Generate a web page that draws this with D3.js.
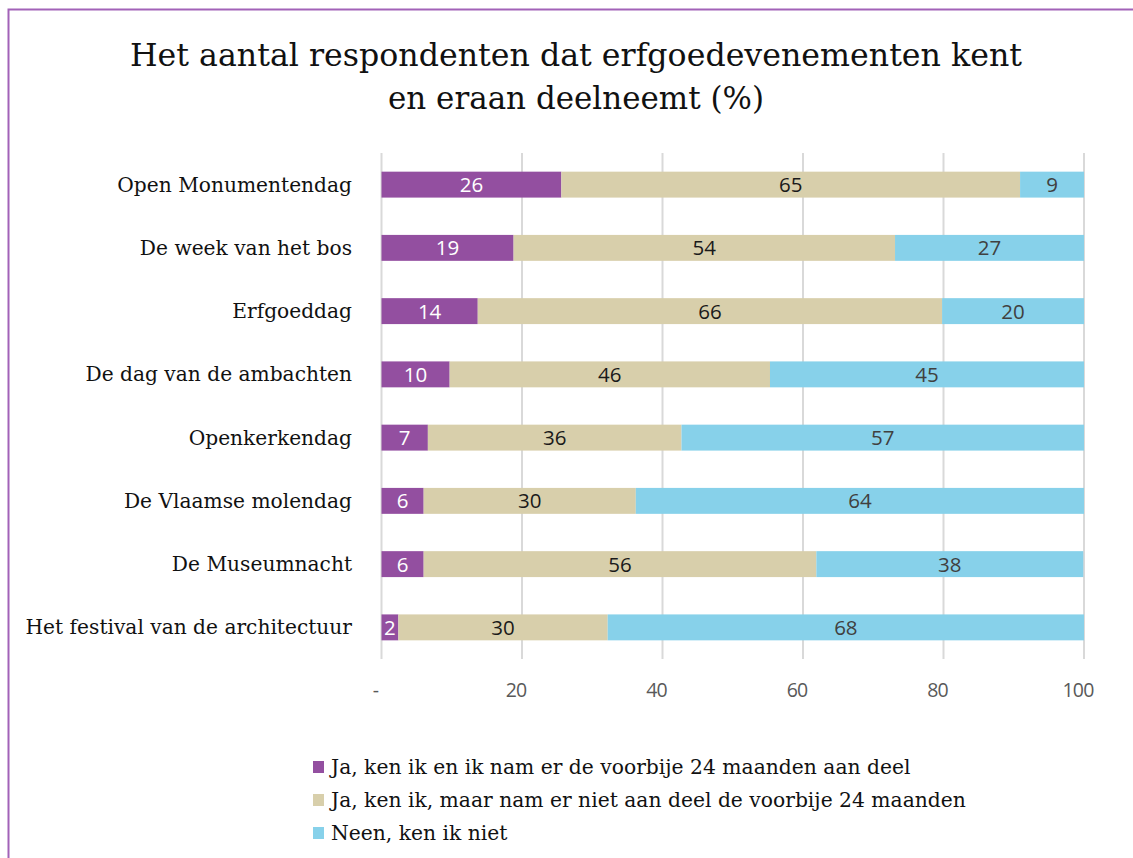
<!DOCTYPE html>
<html>
<head>
<meta charset="utf-8">
<script src="https://cdn.jsdelivr.net/npm/d3@7"></script>
<style>
  html, body { margin: 0; padding: 0; background: #fff; }
  svg { display: block; }
</style>
</head>
<body>
<svg id="chart" width="1133" height="858"></svg>
<script>
// ---- Data ----
const titleLines = ["Het aantal respondenten dat erfgoedevenementen kent", "en eraan deelneemt (%)"];
const categories = [
  "Open Monumentendag",
  "De week van het bos",
  "Erfgoeddag",
  "De dag van de ambachten",
  "Openkerkendag",
  "De Vlaamse molendag",
  "De Museumnacht",
  "Het festival van de architectuur"
];
const seriesNames = [
  "Ja, ken ik en ik nam er de voorbije 24 maanden aan deel",
  "Ja, ken ik, maar nam er niet aan deel de voorbije 24 maanden",
  "Neen, ken ik niet"
];
const deelgenomen   = [25.6, 18.8, 13.7, 9.7, 6.6, 6.0, 6.0, 2.4];
const nietDeel      = [65.3, 54.3, 66.1, 45.6, 36.1, 30.2, 55.9, 29.8];
const kentNiet      = [9.1, 27.0, 20.2, 44.7, 57.3, 63.8, 38.0, 67.9];
const tickValues = [0, 20, 40, 60, 80, 100];
const tickLabels = ["-", "20", "40", "60", "80", "100"];

const colors = ["#934FA0", "#D8CFAB", "#87D1EA"];
const labelColors = ["#FFFFFF", "#1a1a1a", "#404040"];

// ---- Setup ----
const svg = d3.select("#chart");
const serif = "'DejaVu Serif', serif";
const sans = "'Open Sans', 'Lato', sans-serif";

function fitWidth(sel, target) {
  sel.each(function() {
    const w = this.getComputedTextLength();
    if (w > target + 1 || w < target - 1) {
      d3.select(this).attr("textLength", target).attr("lengthAdjust", "spacingAndGlyphs");
    }
  });
}

// border (top and left visible)
svg.append("rect")
  .attr("x", 8.5).attr("y", 9.5)
  .attr("width", 1140).attr("height", 900)
  .attr("fill", "none").attr("stroke", "#A262B8").attr("stroke-width", 2);

// title
const t1 = svg.append("text").attr("x", 576).attr("y", 66).attr("text-anchor", "middle")
  .attr("font-family", serif).attr("font-size", 32).attr("fill", "#111").text(titleLines[0]);
fitWidth(t1, 892);
const t2 = svg.append("text").attr("x", 576).attr("y", 109).attr("text-anchor", "middle")
  .attr("font-family", serif).attr("font-size", 32).attr("fill", "#111").text(titleLines[1]);
fitWidth(t2, 376);

// scales
const x = d3.scaleLinear().domain([0, 100]).range([381.5, 1084]);
const y = d3.scaleBand().domain(categories).range([153, 659]).paddingInner(0.59).paddingOuter(0.295);

// gridlines
svg.append("g").selectAll("line").data(tickValues).join("line")
  .attr("x1", d => x(d)).attr("x2", d => x(d))
  .attr("y1", 153).attr("y2", 659)
  .attr("stroke", "#D9D9D9").attr("stroke-width", 2);

// axis tick labels
svg.append("g").selectAll("text").data(tickValues).join("text")
  .attr("x", d => x(d) - 6).attr("y", 697)
  .attr("text-anchor", "middle")
  .attr("font-family", sans).attr("font-size", 19.5).attr("fill", "#595959")
  .attr("letter-spacing", "-0.8")
  .text((d, i) => tickLabels[i]);

// stacked data
const rows = categories.map((c, i) => ({ cat: c, v: [deelgenomen[i], nietDeel[i], kentNiet[i]] }));
const segs = [];
rows.forEach(r => {
  let acc = 0;
  r.v.forEach((v, k) => {
    segs.push({ cat: r.cat, k, x0: acc, x1: acc + v, v });
    acc += v;
  });
});

svg.append("g").selectAll("rect").data(segs).join("rect")
  .attr("x", d => x(d.x0))
  .attr("y", d => y(d.cat))
  .attr("width", d => Math.max(0, x(Math.min(d.x1, 100)) - x(d.x0)))
  .attr("height", y.bandwidth())
  .attr("fill", d => colors[d.k]);

svg.append("g").selectAll("text").data(segs).join("text")
  .attr("x", d => (x(d.x0) + x(Math.min(d.x1, 100))) / 2)
  .attr("y", d => y(d.cat) + y.bandwidth() / 2 + 7.5)
  .attr("text-anchor", "middle")
  .attr("font-family", sans).attr("font-size", 20.5)
  .attr("fill", d => labelColors[d.k])
  .text(d => Math.round(d.v));

// category labels
svg.append("g").selectAll("text").data(categories).join("text")
  .attr("x", 352)
  .attr("y", d => y(d) + y.bandwidth() / 2 + 7)
  .attr("text-anchor", "end")
  .attr("font-family", serif).attr("font-size", 20.2).attr("fill", "#111")
  .text(d => d);

// legend
const lg = svg.append("g").selectAll("g").data(seriesNames).join("g")
  .attr("transform", (d, i) => `translate(313, ${767 + i * 33})`);
lg.append("rect").attr("x", 0).attr("y", -6).attr("width", 11).attr("height", 12)
  .attr("fill", (d, i) => colors[i]);
lg.append("text").attr("x", 18).attr("y", 7)
  .attr("font-family", serif).attr("font-size", 20.3).attr("fill", "#111")
  .text(d => d);
</script>
</body>
</html>
